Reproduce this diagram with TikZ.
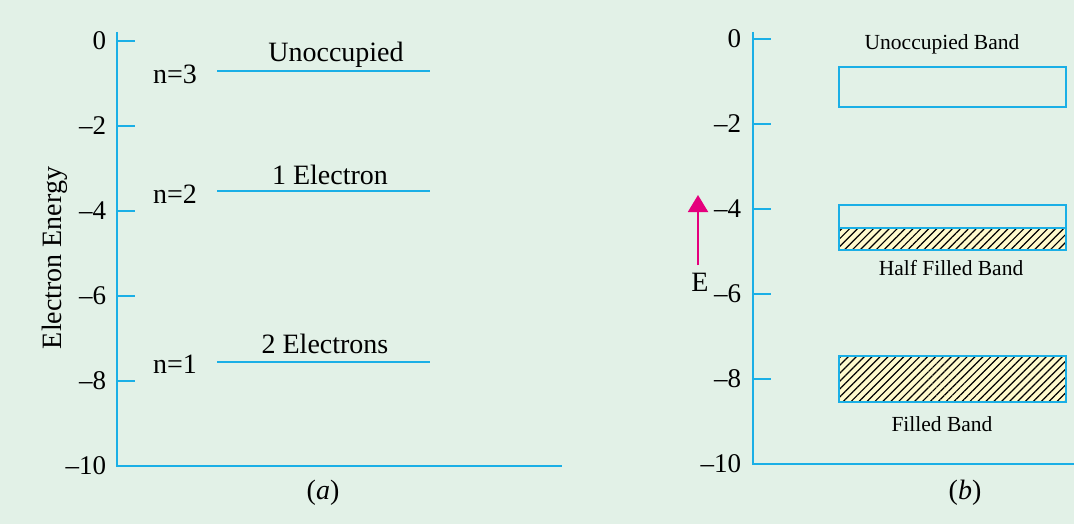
\documentclass[tikz,border=0pt]{standalone}
\usepackage{fontspec}
\setmainfont{Liberation Serif}
\usetikzlibrary{arrows.meta,patterns.meta}
\definecolor{bgcol}{HTML}{E2F1E7}
\definecolor{axcol}{HTML}{1AAFE6}
\definecolor{hatchfill}{HTML}{FFFACD}
\definecolor{arrcol}{HTML}{E5007D}
\begin{document}
\begin{tikzpicture}[x=1pt, y=-1pt, line width=2pt,
    axis/.style={axcol, line width=2pt},
    ticklab/.style={anchor=east, inner sep=0pt, font=\fontsize{27}{29}\selectfont},
    levellab/.style={inner sep=0pt, font=\fontsize{28}{30}\selectfont},
    bandlab/.style={inner sep=0pt, font=\fontsize{21.5}{24}\selectfont},
    band/.style={draw=axcol, line width=2pt},
    hatch/.style={fill=hatchfill, pattern color=black,
        postaction={pattern={Lines[angle=45,distance=5.6pt,line width=1.2pt]}}}]
    \fill[bgcol] (0,0) rectangle (1074,524);
    \useasboundingbox (0,0) rectangle (1074,524);
    % (a) levels
    \draw[axis] (117,32) -- (117,466) -- (562,466);
    \foreach \v [count=\i from 0] in {0,2,4,6,8,10} {
        \ifnum\i<5 \draw[axis] (117,41+85*\i) -- (135,41+85*\i); \fi
        \node[ticklab] (la\i) at (107,41+85*\i) {\ifnum\v=0 0\else –\v\fi};
    }
    \node[levellab, rotate=90] (ylab) at (55,258) {Electron Energy};
    \draw[axis] (217,71) -- (430,71);
    \draw[axis] (217,191) -- (430,191);
    \draw[axis] (217,362) -- (430,362);
    \node[levellab] (n3) at (175,74) {n=3};
    \node[levellab] (n2) at (175,194) {n=2};
    \node[levellab] (n1) at (175,364) {n=1};
    \node[levellab] (l3) at (336,55) {Unoccupied};
    \node[levellab] (l2) at (330,175) {1 Electron};
    \node[levellab] (l1) at (325,344) {2 Electrons};
    \node[levellab] (capa) at (323,493) {(\textit{a})};
    % (b) bands
    \draw[axis] (753,32) -- (753,464) -- (1074,464);
    \foreach \v [count=\i from 0] in {0,2,4,6,8,10} {
        \ifnum\i<5 \draw[axis] (753,39+85*\i) -- (771,39+85*\i); \fi
        \node[ticklab] (lb\i) at (742,39+85*\i) {\ifnum\v=0 0\else –\v\fi};
    }
    \draw[band] (839,67) rectangle (1066,107);
    \draw[band] (839,205) rectangle (1066,228);
    \path[hatch] (839,228) rectangle (1066,250);
    \draw[band] (839,228) rectangle (1066,250);
    \path[hatch] (839,356) rectangle (1066,402);
    \draw[band] (839,356) rectangle (1066,402);
    \node[bandlab] (ub) at (942,44) {Unoccupied Band};
    \node[bandlab] (hb) at (951,268) {Half Filled Band};
    \node[bandlab] (fb) at (942,424) {Filled Band};
    \coordinate (etail) at (698,265);
    \coordinate (etip) at (698,195);
    \draw[arrcol, -{Triangle[width=20pt,length=17pt]}] (etail) -- (etip);
    \node[levellab] (elab) at (700,282) {E};
    \node[levellab] (capb) at (965,493) {(\textit{b})};
\end{tikzpicture}
\end{document}
